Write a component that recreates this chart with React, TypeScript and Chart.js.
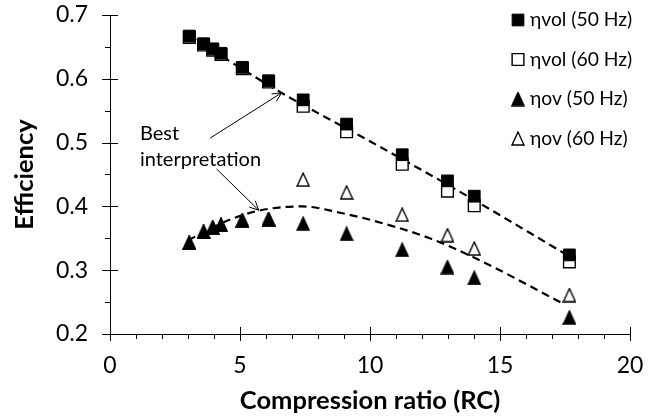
import React, { useEffect, useRef } from 'react';
import { Chart, registerables } from 'chart.js';
import { drawPoint } from 'chart.js/helpers';

Chart.register(...registerables);

// ---- data ----
const compressionRatio = [3.05, 3.6, 3.95, 4.27, 5.09, 6.1, 7.43, 9.1, 11.24, 12.98, 14.01, 17.67];
const etaVol50 = [0.667, 0.655, 0.647, 0.64, 0.618, 0.597, 0.567, 0.529, 0.481, 0.44, 0.416, 0.324];
const etaVol60 = [0.665, 0.653, 0.645, 0.638, 0.616, 0.595, 0.557, 0.517, 0.466, 0.424, 0.401, 0.313];
const etaOv50 = [0.343, 0.36, 0.367, 0.371, 0.378, 0.38, 0.373, 0.357, 0.332, 0.305, 0.288, 0.226];
const etaOv60 = [0.343, 0.36, 0.367, 0.371, 0.378, 0.38, 0.442, 0.422, 0.387, 0.355, 0.334, 0.261];

const fitVolX = [3.05, 6.6, 10.0, 13.33, 17.45];
const fitVolY = [0.667, 0.578, 0.502, 0.426, 0.327];
const fitOvX = [3.0, 4.6, 5.8, 7.4, 8.85, 10.1, 12.3, 14.2, 17.45];
const fitOvY = [0.347, 0.379, 0.394, 0.4, 0.39, 0.378, 0.35, 0.316, 0.247];

const seriesLabels = ['ηvol (50 Hz)', 'ηvol (60 Hz)', 'ηov (50 Hz)', 'ηov (60 Hz)'];
const xTicks = [0, 5, 10, 15, 20];
const yTicks = [0.2, 0.3, 0.4, 0.5, 0.6, 0.7];
const xTitle = 'Compression ratio (RC)';
const yTitle = 'Efficiency';

const noteLines = ['Best', 'interpretation'];
const noteAnchorsX = [1.15, 1.15];
const noteAnchorsY = [0.5036, 0.4627];
const arrowFromX = [3.85, 4.1];
const arrowFromY = [0.507, 0.4586];
const arrowToX = [6.6, 5.72];
const arrowToY = [0.578, 0.394];

const FONT = 'Lato';

function makeTriangle(filled: boolean): HTMLCanvasElement {
  const c = document.createElement('canvas');
  c.width = 14;
  c.height = 15;
  const g = c.getContext('2d')!;
  g.beginPath();
  g.moveTo(7, 1);
  g.lineTo(13, 14);
  g.lineTo(1, 14);
  g.closePath();
  g.fillStyle = filled ? '#000' : '#fff';
  g.fill();
  g.lineWidth = 1.4;
  g.strokeStyle = '#000';
  g.stroke();
  return c;
}

const pts = (xs: number[], ys: number[]) => xs.map((x, i) => ({ x, y: ys[i] }));

export default function App() {
  const ref = useRef<HTMLCanvasElement | null>(null);

  useEffect(() => {
    const canvas = ref.current;
    if (!canvas) return;
    const triFilled = makeTriangle(true);
    const triOpen = makeTriangle(false);

    const markerStyles: any[] = [
      { pointStyle: 'rect', radius: 8.3, bg: '#000', border: 1 },
      { pointStyle: 'rect', radius: 8.3, bg: '#fff', border: 1.4 },
      { pointStyle: triFilled, radius: 7, bg: '#000', border: 0 },
      { pointStyle: triOpen, radius: 7, bg: '#fff', border: 0 },
    ];
    const seriesValues = [etaVol50, etaVol60, etaOv50, etaOv60];

    const markerDatasets = seriesValues.map((vals, i) => ({
      label: seriesLabels[i],
      data: pts(compressionRatio, vals),
      showLine: false,
      pointStyle: markerStyles[i].pointStyle,
      pointRadius: markerStyles[i].radius,
      pointBackgroundColor: markerStyles[i].bg,
      pointBorderColor: '#000',
      pointBorderWidth: markerStyles[i].border,
    }));

    const fitDataset = (xs: number[], ys: number[]) => ({
      label: 'fit',
      data: pts(xs, ys),
      showLine: true,
      borderColor: '#000',
      borderWidth: 2.2,
      borderDash: [8, 5],
      pointRadius: 0,
      tension: 0.4,
      cubicInterpolationMode: 'monotone',
      fill: false,
    });

    const tickPlugin = {
      id: 'axisTicks',
      afterDraw(chart: any) {
        const { ctx, chartArea } = chart;
        const xs = chart.scales.x;
        const ys = chart.scales.y;
        ctx.save();
        ctx.strokeStyle = '#000';
        ctx.lineWidth = 1;
        ctx.beginPath();
        for (let v = 0; v <= 20; v += 1) {
          const px = Math.round(xs.getPixelForValue(v)) + 0.5;
          if (v % 5 === 0) {
            ctx.moveTo(px, chartArea.bottom - 7);
            ctx.lineTo(px, chartArea.bottom + 7);
          } else {
            ctx.moveTo(px, chartArea.bottom);
            ctx.lineTo(px, chartArea.bottom + 5);
          }
        }
        for (let k = 0; k <= 10; k++) {
          const v = 0.2 + k * 0.05;
          const py = Math.round(ys.getPixelForValue(v)) + 0.5;
          if (k % 2 === 0) {
            ctx.moveTo(chartArea.left - 8, py);
            ctx.lineTo(chartArea.left + 8, py);
          } else {
            ctx.moveTo(chartArea.left - 5, py);
            ctx.lineTo(chartArea.left, py);
          }
        }
        ctx.stroke();
        ctx.restore();
      },
    };

    const legendPlugin = {
      id: 'customLegend',
      afterDraw(chart: any) {
        const { ctx, chartArea } = chart;
        ctx.save();
        ctx.font = `19.3px ${FONT}`;
        ctx.textBaseline = 'middle';
        ctx.textAlign = 'left';
        for (let i = 0; i < 4; i++) {
          const cy = chartArea.top + 5 + i * 39.5;
          const mx = chartArea.right - 112;
          const st = markerStyles[i];
          ctx.fillStyle = st.bg;
          ctx.strokeStyle = '#000';
          ctx.lineWidth = st.border;
          drawPoint(ctx, { pointStyle: st.pointStyle, radius: st.radius, rotation: 0, borderWidth: st.border } as any, mx, cy);
          ctx.fillStyle = '#000';
          ctx.fillText(seriesLabels[i], chartArea.right - 100, cy);
        }
        ctx.restore();
      },
    };

    const notePlugin = {
      id: 'notes',
      afterDatasetsDraw(chart: any) {
        const { ctx } = chart;
        const xs = chart.scales.x;
        const ys = chart.scales.y;
        ctx.save();
        ctx.font = `20px ${FONT}`;
        ctx.fillStyle = '#000';
        ctx.textBaseline = 'alphabetic';
        ctx.textAlign = 'left';
        noteLines.forEach((t, i) => {
          ctx.fillText(t, xs.getPixelForValue(noteAnchorsX[i]), ys.getPixelForValue(noteAnchorsY[i]));
        });
        ctx.strokeStyle = '#000';
        ctx.lineWidth = 1;
        for (let i = 0; i < arrowFromX.length; i++) {
          const x1 = xs.getPixelForValue(arrowFromX[i]);
          const y1 = ys.getPixelForValue(arrowFromY[i]);
          const x2 = xs.getPixelForValue(arrowToX[i]);
          const y2 = ys.getPixelForValue(arrowToY[i]);
          const a = Math.atan2(y2 - y1, x2 - x1);
          const L = 10;
          const w = 0.45;
          ctx.beginPath();
          ctx.moveTo(x1, y1);
          ctx.lineTo(x2, y2);
          ctx.moveTo(x2 - L * Math.cos(a - w), y2 - L * Math.sin(a - w));
          ctx.lineTo(x2, y2);
          ctx.lineTo(x2 - L * Math.cos(a + w), y2 - L * Math.sin(a + w));
          ctx.stroke();
        }
        ctx.restore();
      },
    };

    const chart = new Chart(canvas, {
      type: 'scatter',
      data: {
        datasets: [
          ...markerDatasets,
          fitDataset(fitVolX, fitVolY),
          fitDataset(fitOvX, fitOvY),
        ] as any,
      },
      options: {
        animation: false,
        responsive: false,
        devicePixelRatio: 1,
        layout: { padding: { top: 15, right: 31, left: 0, bottom: 0 } },
        plugins: {
          legend: { display: false },
          tooltip: { enabled: false },
        },
        scales: {
          x: {
            type: 'linear',
            min: 0,
            max: 20,
            afterBuildTicks: (s: any) => {
              s.ticks = xTicks.map((v) => ({ value: v }));
            },
            afterFit: (s: any) => {
              s.height = 83;
              s.paddingLeft = 0;
              s.paddingRight = 0;
            },
            grid: { display: true, drawOnChartArea: false, drawTicks: false },
            border: { display: true, color: '#000', width: 1 },
            ticks: {
              padding: 18,
              color: '#000',
              font: { family: FONT, size: 23 },
              callback: (v: any) => String(v),
            },
            title: {
              display: true,
              text: xTitle,
              color: '#000',
              font: { family: FONT, size: 25.5, weight: 'bold' },
              padding: { top: 0, bottom: 1 },
            },
          },
          y: {
            type: 'linear',
            min: 0.2,
            max: 0.7,
            afterBuildTicks: (s: any) => {
              s.ticks = yTicks.map((v) => ({ value: v }));
            },
            afterFit: (s: any) => {
              s.width = 110;
              s.paddingTop = 0;
              s.paddingBottom = 0;
            },
            grid: { display: true, drawOnChartArea: false, drawTicks: false },
            border: { display: true, color: '#000', width: 1 },
            ticks: {
              padding: 22,
              color: '#000',
              font: { family: FONT, size: 23 },
              callback: (v: any) => Number(v).toFixed(1),
            },
            title: {
              display: true,
              text: yTitle,
              color: '#000',
              font: { family: FONT, size: 25.5, weight: 'bold' },
              padding: { top: 9, bottom: 0 },
            },
          },
        },
      } as any,
      plugins: [tickPlugin, legendPlugin, notePlugin],
    });

    return () => chart.destroy();
  }, []);

  return (
    <canvas
      ref={ref}
      width={661}
      height={417}
      style={{ position: 'absolute', left: 0, top: 0, width: 661, height: 417 }}
    />
  );
}
